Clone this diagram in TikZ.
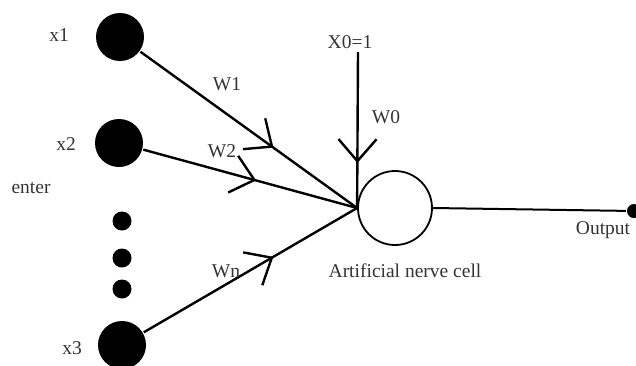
\documentclass[tikz,border=0pt]{standalone}
\usepackage{fontspec}
\setmainfont{Liberation Serif}
\usetikzlibrary{arrows.meta,decorations.markings}
\begin{document}
\begin{tikzpicture}[x=1pt,y=-1pt, line width=2.4pt,
  big/.style={circle,fill=black,inner sep=0pt,minimum size=48pt},
  small/.style={circle,fill=black,inner sep=0pt,minimum size=19pt},
  lbl/.style={text=black!80,font=\fontsize{19.5}{22}\selectfont,inner sep=0pt},
  midarrow/.style={postaction={decorate,decoration={markings,
      mark=at position #1 with {\arrow{Straight Barb[length=22pt,width=38pt]}}}}}]
\useasboundingbox (0,0) rectangle (636,365);
% inputs
\node[big] (x1) at (120,37) {};
\node[big] (x2) at (119,143) {};
\node[big] (x3) at (122,345) {};
\node[small] (d1) at (122,221) {};
\node[small] (d2) at (122,258) {};
\node[small] (d3) at (122,289) {};
% neuron
\node[circle,draw,line width=1.8pt,minimum size=74pt,inner sep=0pt] (cell) at (395,208) {};
\node[circle,fill=black,minimum size=14pt,inner sep=0pt] (out) at (634,211) {};
\coordinate (x0) at (358,52);
% connectors
\draw[midarrow=164pt] (x1) -- (cell.west);
\draw[midarrow=117pt] (x2) -- (cell.west);
\draw[midarrow=150pt] (x3) -- (cell.west);
\draw[midarrow=111pt] (x0) -- (cell.west);
\draw[line width=2pt] (cell.east) -- (out);
% labels
\node[lbl] (lx1) at (59,35) {x1};
\node[lbl] (lx2) at (66,144) {x2};
\node[lbl] (lx3) at (72,348) {x3};
\node[lbl] (lenter) at (31,188) {enter};
\node[lbl] (lw1) at (227,84) {W1};
\node[lbl] (lw2) at (222,151) {W2};
\node[lbl] (lwn) at (226,271) {Wn};
\node[lbl] (lw0) at (386,117) {W0};
\node[lbl] (lx0) at (350,42) {X0=1};
\node[lbl] (lout) at (603,230) {Output};
\node[lbl] (lcell) at (405,271) {Artificial nerve cell};
\end{tikzpicture}
\end{document}
